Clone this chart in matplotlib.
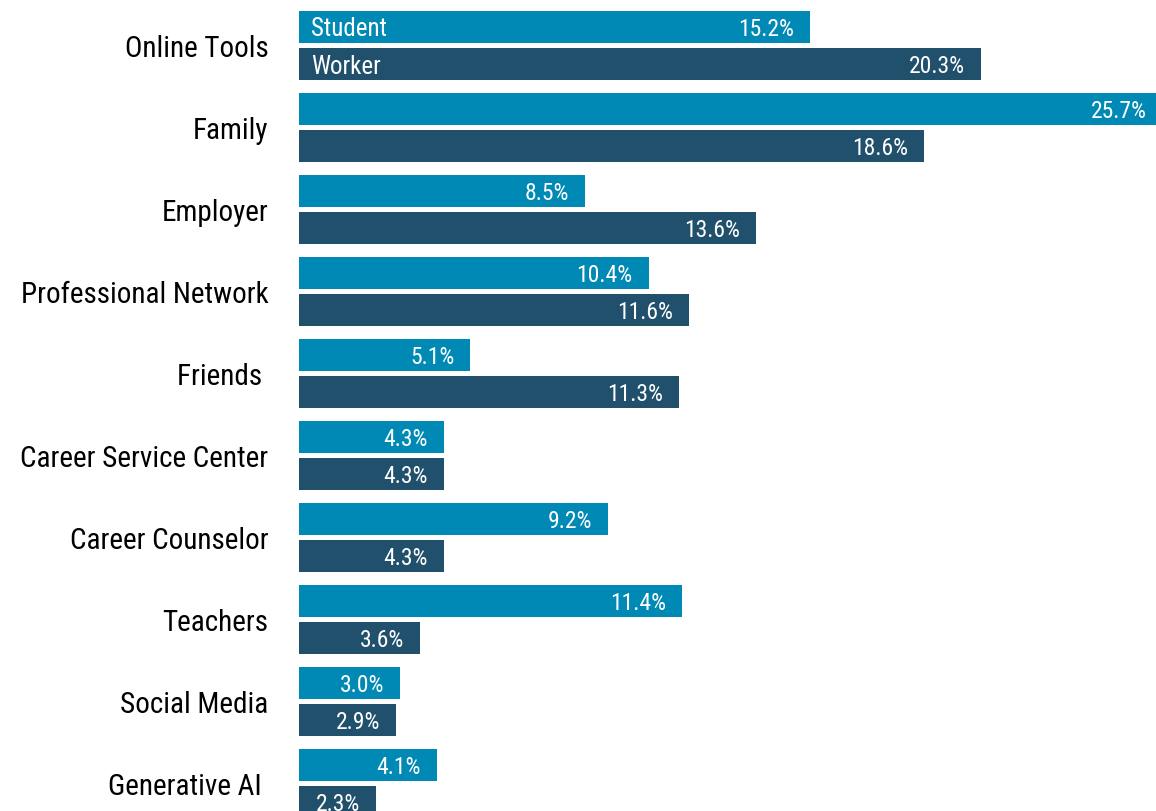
import matplotlib
matplotlib.use("Agg")
import matplotlib.pyplot as plt
import numpy as np

categories = [
    "Online Tools", "Family", "Employer", "Professional Network", "Friends ",
    "Career Service Center", "Career Counselor", "Teachers", "Social Media",
    "Generative AI ",
]
student = [15.2, 25.7, 8.5, 10.4, 5.1, 4.3, 9.2, 11.4, 3.0, 4.1]
worker = [20.3, 18.6, 13.6, 11.6, 11.3, 4.3, 4.3, 3.6, 2.9, 2.3]
series_names = ["Student", "Worker"]

STUDENT_C = "#0089B5"
WORKER_C = "#20506C"

plt.rcParams["font.family"] = ["Roboto Condensed", "Roboto"]

fig = plt.figure(figsize=(11.56, 8.11), dpi=100)
ax = fig.add_axes([299 / 1156, 0, 1 - 299 / 1156, 1])

y = np.arange(len(categories))
off, h = 0.226, 0.39
ax.barh(y - off, student, height=h, color=STUDENT_C)
ax.barh(y + off, worker, height=h, color=WORKER_C)

ax.set_xlim(0, 25.5)
ax.set_ylim(9.335, -0.555)
ax.axis("off")

for i, (s, w) in enumerate(zip(student, worker)):
    for val, yy in ((s, i - off), (w, i + off)):
        ax.annotate(f"{val:.1f}%", (val, yy), xytext=(-11.5, 0),
                    textcoords="offset points", ha="right", va="center_baseline",
                    color="white", fontsize=17, annotation_clip=False)
    ax.annotate(categories[i], (0, i), xytext=(-22, 0), textcoords="offset points",
                ha="right", va="center_baseline", color="black", fontsize=21,
                annotation_clip=False)

for name, yy in zip(series_names, (-off, off)):
    ax.annotate(name, (0, yy), xytext=(9, 0), textcoords="offset points",
                ha="left", va="center_baseline", color="white", fontsize=18)

fig.savefig("out.png", dpi=100)
